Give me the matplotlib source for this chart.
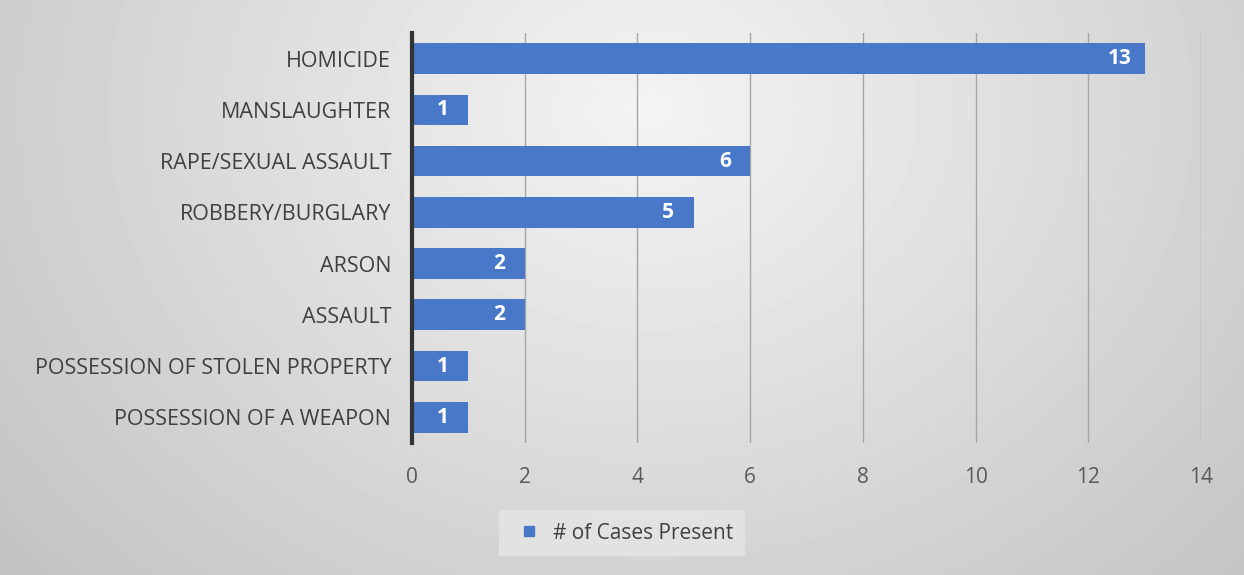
import numpy as np
import matplotlib
matplotlib.use('Agg')
import matplotlib.pyplot as plt
from matplotlib.lines import Line2D

categories = ["HOMICIDE", "MANSLAUGHTER", "RAPE/SEXUAL ASSAULT", "ROBBERY/BURGLARY",
              "ARSON", "ASSAULT", "POSSESSION OF STOLEN PROPERTY", "POSSESSION OF A WEAPON"]
cases = [13, 1, 6, 5, 2, 2, 1, 1]
xticks = [0, 2, 4, 6, 8, 10, 12, 14]
series_name = '# of Cases Present'

plt.rcParams['font.family'] = ['Open Sans', 'DejaVu Sans']
bar_color = '#4a78c8'

fig = plt.figure(figsize=(12.44, 5.75), dpi=100)

# radial gray background
bg = fig.add_axes([0, 0, 1, 1], zorder=-10)
yy, xx = np.mgrid[0:575, 0:1244]
r = np.sqrt(((xx - 650) / 750.0) ** 2 + ((yy - 110) / 620.0) ** 2)
bg.imshow(0.955 - 0.17 * np.clip(r, 0, 1.1), cmap='gray', vmin=0, vmax=1, aspect='auto')
bg.axis('off')

ax = fig.add_axes([0.3312, 0.2296, 0.6342, 0.713])
ax.patch.set_alpha(0)
y = np.arange(len(categories))
bars = ax.barh(y, cases, height=0.6, color=bar_color, zorder=3)
ax.set_ylim(len(categories) - 0.5, -0.5)
ax.set_xlim(0, 14)
ax.set_xticks(xticks)
ax.set_yticks(y)
ax.set_yticklabels(categories, fontsize=15.5, color='#404040')
ax.tick_params(axis='x', labelsize=15, colors='#595959', length=0, pad=17)
ax.tick_params(axis='y', length=0, pad=15)
ax.grid(axis='x', color='#a6a6a6', linewidth=1, zorder=0)
for s in ['top', 'right', 'bottom']:
    ax.spines[s].set_visible(False)
ax.spines['left'].set_linewidth(3)
ax.spines['left'].set_color('#333333')
ax.spines['left'].set_zorder(4)

for b, v in zip(bars, cases):
    ax.text(b.get_width() - 0.45, b.get_y() + b.get_height() / 2, str(v),
            ha='center', va='center', color='white', fontsize=15, fontweight='bold', zorder=5)

handle = Line2D([], [], marker='s', markersize=7.5, linestyle='none', color=bar_color)
leg = fig.legend([handle], [series_name], loc='center', bbox_to_anchor=(0.5, 0.073),
                 fontsize=15, frameon=True, handlelength=1.7, handletextpad=0.3,
                 borderpad=0.6, borderaxespad=0, fancybox=False)
leg.get_frame().set_facecolor('#e6e6e6')
leg.get_frame().set_edgecolor('none')
for t in leg.get_texts():
    t.set_color('#404040')

fig.savefig('out.png', dpi=100)
